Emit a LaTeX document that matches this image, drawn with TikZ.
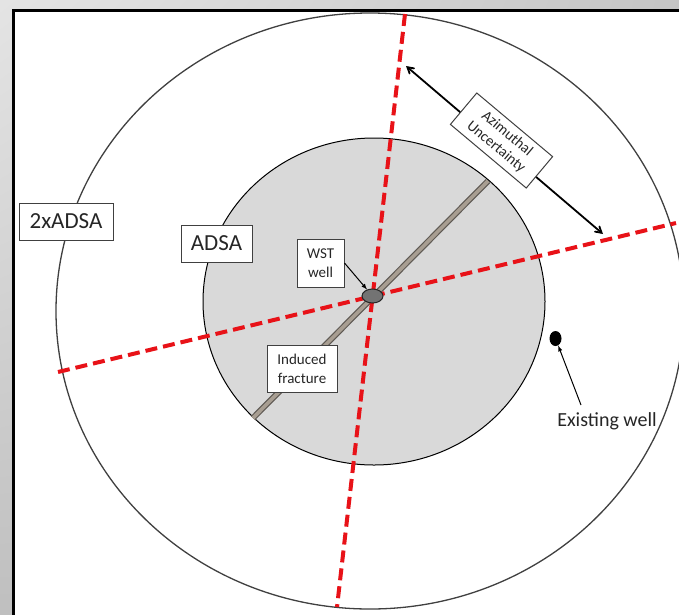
\documentclass[tikz,border=0pt]{standalone}
\usepackage{fontspec}
\setmainfont{Carlito}
\usetikzlibrary{arrows,shapes.geometric,shadings}
\definecolor{dashred}{RGB}{232,18,24}
\definecolor{adsagray}{RGB}{217,217,217}
\definecolor{fracedge}{RGB}{95,90,84}
\definecolor{fracfill}{RGB}{168,158,146}
\definecolor{txtgray}{RGB}{38,38,38}
\def\wellx{372.5}
\def\welly{296}

\tikzset{
  lbl/.style={draw=black!75,fill=white,line width=1pt,inner sep=0pt,align=center,text=txtgray},
  azline/.style={dashred,line width=4pt,dash pattern=on 12pt off 6pt},
}

\begin{document}
\begin{tikzpicture}[x=1pt,y=-1pt]
        \useasboundingbox (0,0) rectangle (679,614);
        \clip (0,0) rectangle (679,614);
        %
        \shade[upper left=gray!21,upper right=gray!46,lower left=gray!50,lower right=gray!50] (0,0) rectangle (679,614);
        \filldraw[fill=white,draw=black,line width=3pt] (13.5,10.5) rectangle (700,700);
        %
        \draw[black!75,line width=1.3pt] (370,311) ellipse [x radius=314pt,y radius=298pt]; % 2xADSA
        \filldraw[fill=adsagray,draw=black,line width=1pt] (374,301.5) ellipse [x radius=171pt,y radius=163.5pt]; % ADSA
        %
        \coordinate (fr1) at (253,418);
        \coordinate (fr2) at (488,181);
        \draw[fracedge,line width=6pt] (fr1) -- (fr2); % Induced fracture
        \draw[fracfill,line width=3.6pt] (fr1) -- (fr2);
        %
        \coordinate (az1n) at (405,14);
        \coordinate (az1s) at (337,607);
        \coordinate (az2w) at (58,372);
        \coordinate (az2e) at (676,223);
        \draw[azline] (az1n) -- (az1s);
        \draw[azline] (az2w) -- (az2e);
        %
        \node[ellipse,draw=black!85,fill=black!55,line width=1pt,minimum width=21pt,minimum height=14pt,inner sep=0pt] (wst) at (\wellx,\welly) {};
        \node[ellipse,fill=black,minimum width=12pt,minimum height=15pt,inner sep=0pt] (exwell) at (555.5,338.5) {};
        %
        \coordinate (unc1) at (406,66);
        \coordinate (unc2) at (603,234);
        \draw[<->,>=angle 60,line width=1.8pt] (unc1) -- (unc2);
        \node[lbl,rotate=-40,minimum width=99pt,minimum height=41pt,font=\fontsize{15}{17}\selectfont] (unclbl) at (501.5,140.5) {Azimuthal\\Uncertainty};
        %
        \node[lbl,minimum width=94pt,minimum height=37pt,font=\fontsize{23}{26}\selectfont] (outlbl) at (66,221.5) {2xADSA};
        \node[lbl,minimum width=71pt,minimum height=37pt,font=\fontsize{23}{26}\selectfont] (inlbl) at (216.5,243.5) {ADSA};
        \node[lbl,minimum width=47pt,minimum height=48pt,font=\fontsize{15}{19}\selectfont] (wstlbl) at (320.5,263) {WST\\well};
        \node[lbl,minimum width=70pt,minimum height=47pt,font=\fontsize{15}{19}\selectfont] (fraclbl) at (302,368.5) {Induced\\fracture};
        \node[text=txtgray,font=\fontsize{20}{24}\selectfont,inner sep=0pt] (exlbl) at (607,421) {Existing well};
        %
        \draw[->,>=latex,line width=1pt] (wstlbl.east) -- (wst);
        \coordinate (extail) at (581,405);
        \draw[->,>=latex,line width=1pt] (extail) -- (exwell);
      \end{tikzpicture}
\end{document}
